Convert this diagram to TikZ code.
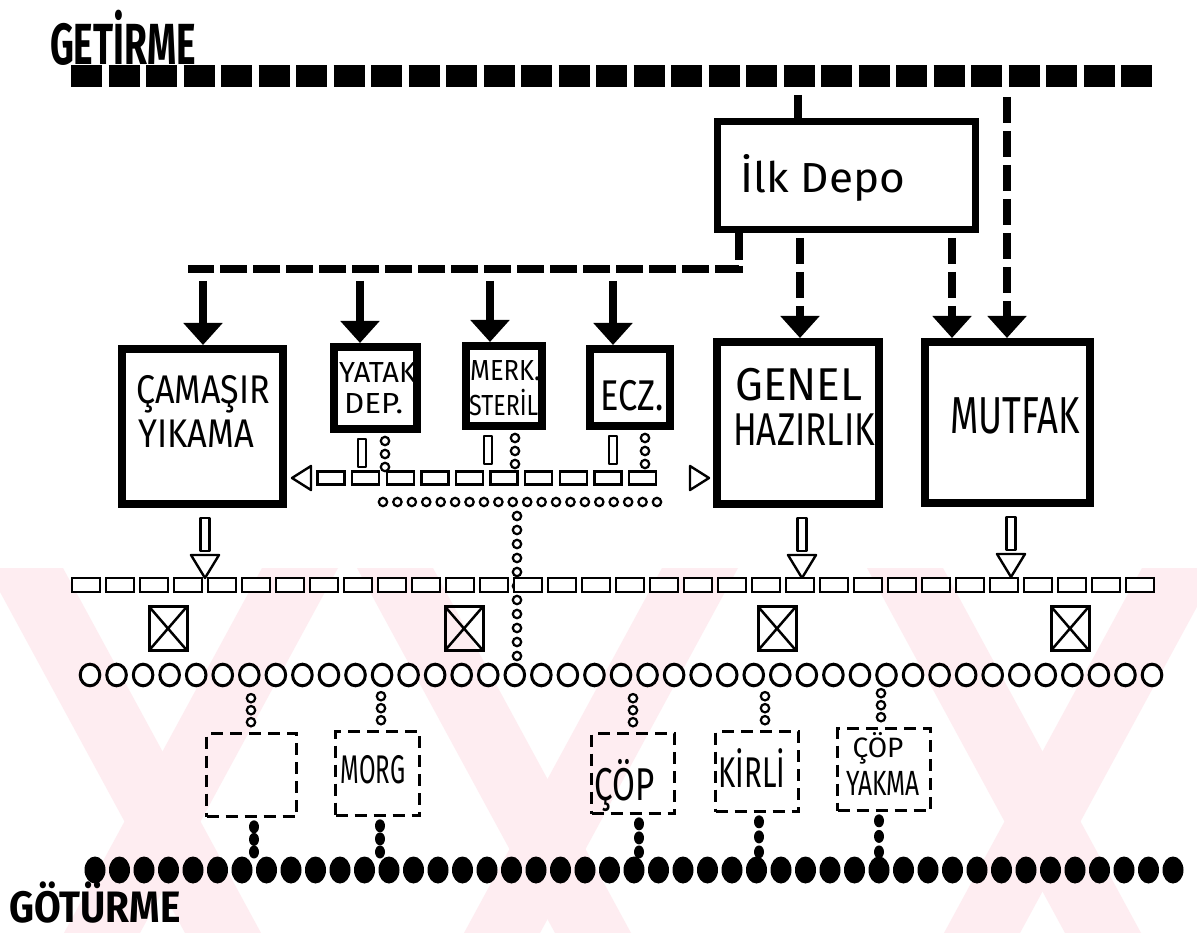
\documentclass[tikz,border=0pt]{standalone}
\usepackage{fontspec}
\setmainfont{Fira Sans}
\usetikzlibrary{arrows.meta,decorations.markings,calc}
\definecolor{wm}{RGB}{254,237,241}
\newcommand\sx[2]{\scalebox{#1}[1]{#2}}
\tikzset{
  getline/.style={line width=22pt, dash pattern=on 31pt off 6.5pt},
  thickdash/.style={line width=8pt, dash pattern=on 26pt off 8pt},
  bhead/.style={-{Triangle[width=38pt,length=22pt]}},
  sbox/.style={draw, line width=8pt, inner sep=0pt},
  dbox/.style={draw, line width=2.6pt, dash pattern=on 12pt off 7pt, inner sep=0pt},
  xbox/.style={draw, line width=3pt, minimum width=38pt, minimum height=44pt, inner sep=0pt,
    path picture={\draw[line width=2.5pt] (path picture bounding box.north west) -- (path picture bounding box.south east)
      (path picture bounding box.north east) -- (path picture bounding box.south west);}},
  lbl/.style={inner sep=0pt, anchor=base},
  lblw/.style={inner sep=0pt, anchor=base west},
  hollow/.style={line width=2.4pt, line join=round},
  rectbig/.style={decorate, decoration={markings, mark=between positions 0 and 1 step #1 with
    {\draw[line width=2.8pt, fill=white] (-14pt,-7pt) rectangle (14pt,7pt);}}},
  rectsmall/.style={decorate, decoration={markings, mark=between positions 0 and 1 step #1 with
    {\draw[line width=2.4pt, fill=white] (-13.5pt,-6.5pt) rectangle (13.5pt,6.5pt);}}},
  circsmall/.style={decorate, decoration={markings, mark=between positions 0 and 1 step #1 with
    {\draw[line width=2.2pt, fill=white] (0pt,0pt) circle [radius=4.2pt];}}},
  circbig/.style={decorate, decoration={markings, mark=between positions 0 and 1 step #1 with
    {\draw[line width=3pt, fill=white] (0pt,0pt) ellipse [x radius=9.8pt, y radius=10.8pt];}}},
  dotbig/.style={decorate, decoration={markings, mark=between positions 0 and 1 step #1 with
    {\fill (0pt,0pt) ellipse [x radius=10.5pt, y radius=13.5pt];}}},
  dotsmall/.style={decorate, decoration={markings,
    mark=at position 0 with {\fill (0pt,0pt) ellipse [x radius=6.5pt, y radius=5pt];},
    mark=at position 0.5 with {\fill (0pt,0pt) ellipse [x radius=6.5pt, y radius=5pt];},
    mark=at position 0.999 with {\fill (0pt,0pt) ellipse [x radius=6.5pt, y radius=5pt];}}},
}
\begin{document}
\begin{tikzpicture}[x=1pt,y=-1pt]
\useasboundingbox[fill=white] (0,0) rectangle (1197,933);
% watermark
\begin{scope}
  \clip (0,568) rectangle (1197,933);
  \foreach \a/\b in {25/223, 300/102, 395/593, 700/502, 905/1103, 1180/982}{
    \fill[wm] (\a-38,568) -- (\a+38,568) -- (\b+38,933) -- (\b-38,933) -- cycle;
  }
\end{scope}

% titles
\node[lbl, font=\fontsize{58}{60}\selectfont\bfseries] (getirme) at (123,65) {\sx{0.64}{GETİRME}};
\node[lbl, font=\fontsize{44}{46}\selectfont\bfseries] (goturme) at (95,922) {\sx{0.88}{GÖTÜRME}};

% main boxes
\node[sbox, line width=7pt, minimum width=258pt, minimum height=108pt] (ilk) at (846.5,175.5) {};
\node[sbox, minimum width=161pt, minimum height=155pt] (cam) at (202.5,426.5) {};
\node[sbox, minimum width=83pt, minimum height=82pt] (yat) at (375.5,388) {};
\node[sbox, minimum width=76pt, minimum height=80pt] (mer) at (504,386) {};
\node[sbox, minimum width=80pt, minimum height=77pt] (ecz) at (630,387.5) {};
\node[sbox, minimum width=162pt, minimum height=162pt] (gen) at (798,423) {};
\node[sbox, minimum width=165pt, minimum height=161pt] (mut) at (1007.5,422.5) {};

% dashed boxes
\node[dbox, minimum width=90pt, minimum height=83pt] (b1) at (251.5,775) {};
\node[dbox, minimum width=84pt, minimum height=84pt] (b2) at (377.5,773.5) {};
\node[dbox, minimum width=83pt, minimum height=80pt] (b3) at (633,773.5) {};
\node[dbox, minimum width=83pt, minimum height=80pt] (b4) at (757,771.5) {};
\node[dbox, minimum width=93pt, minimum height=82pt] (b5) at (884,769.5) {};

% crossed boxes
\node[xbox] (x1) at (168,628.5) {};
\node[xbox] (x2) at (464,628.5) {};
\node[xbox] (x3) at (777,628.5) {};
\node[xbox] (x4) at (1070,628.5) {};

% labels
\node[lbl, font=\fontsize{42}{44}\selectfont] (tilk) at (823,193) {\sx{1.05}{İlk Depo}};
\node[lblw, font=\fontsize{40}{42}\selectfont] (tcam1) at (136,403) {\sx{0.85}{ÇAMAŞIR}};
\node[lblw, font=\fontsize{40}{42}\selectfont] (tcam2) at (138,447) {\sx{0.86}{YIKAMA}};
\node[lblw, font=\fontsize{29}{30}\selectfont] (tyat1) at (339,382) {\sx{1.0}{YATAK}};
\node[lblw, font=\fontsize{29}{30}\selectfont] (tyat2) at (344,413) {\sx{1.08}{DEP.}};
\node[lblw, font=\fontsize{29}{30}\selectfont] (tmer1) at (470,380) {\sx{0.88}{MERK.}};
\node[lblw, font=\fontsize{29}{30}\selectfont] (tmer2) at (469,415) {\sx{0.8}{STERİL}};
\node[lbl, font=\fontsize{43}{44}\selectfont] (tecz) at (632.5,410) {\sx{0.8}{ECZ.}};
\node[lblw, font=\fontsize{46}{48}\selectfont] (tgen1) at (735,400) {\sx{0.96}{GENEL}};
\node[lblw, font=\fontsize{46}{48}\selectfont] (tgen2) at (733,445) {\sx{0.76}{HAZIRLIK}};
\node[lbl, font=\fontsize{52}{54}\selectfont] (tmut) at (1015,433) {\sx{0.7}{MUTFAK}};
\node[lbl, font=\fontsize{40}{42}\selectfont] (tmorg) at (373,783) {\sx{0.6}{MORG}};
\node[lbl, font=\fontsize{46}{48}\selectfont] (tcop) at (625,800) {\sx{0.72}{ÇÖP}};
\node[lbl, font=\fontsize{43}{44}\selectfont] (tkir) at (752,787) {\sx{0.68}{KİRLİ}};
\node[lbl, font=\fontsize{28}{30}\selectfont] (tcy1) at (878,757) {ÇÖP};
\node[lbl, font=\fontsize{35}{36}\selectfont] (tcy2) at (883,795) {\sx{0.7}{YAKMA}};

% getirme line
\coordinate (gL) at (71,76);
\coordinate (gR) at (1158,76);
\draw[getline] (gL) -- (gR);
\coordinate (s1) at (798,95);
\draw[thickdash] (s1) -- (s1 |- ilk.north);
\coordinate (s2) at (1007,97);
\draw[thickdash, bhead] (s2) -- (s2 |- mut.north);

% ilk depo outputs
\coordinate (bend) at (739,269);
\coordinate (lend) at (188,269);
\draw[line width=8pt, dash pattern=on 27pt off 6pt] (ilk.south -| bend) -- (bend) -- (lend);
\foreach \n/\x in {cam/203, yat/360, mer/490, ecz/613}{
  \coordinate (a\n) at (\x,281);
  \draw[line width=8pt, bhead] (a\n) -- (a\n |- \n.north);
}
\coordinate (g1) at (800,0);
\coordinate (m1) at (952,0);
\draw[thickdash, bhead, shorten <=5pt] (ilk.south -| g1) -- (g1 |- gen.north);
\draw[thickdash, bhead, shorten <=5pt] (ilk.south -| m1) -- (m1 |- mut.north);

% small box outputs
\foreach \n/\xa/\xb in {yat/362/385, mer/488/515, ecz/613/645}{
  \coordinate (v\n) at (\xa,0);
  \coordinate (c\n) at (\xb,0);
  \draw[hollow] ($(v\n |- \n.south)+(-4,6)$) rectangle ++(8,28);
  \path[circsmall=13pt] ($(c\n |- \n.south)+(0,8)$) -- ++(0,26.5);
}

% horizontal hollow chain between laundry and general preparation
\coordinate (hc) at (0,478);
\path[rectsmall=34.6pt] ($(cam.east |- hc)+(44,0)$) -- ($(gen.west |- hc)+(-39.5,0)$);
\draw[hollow, fill=white] ($(cam.east |- hc)+(5,0)$) -- ++(19,-12) -- ++(0,24) -- cycle;
\draw[hollow, fill=white] ($(gen.west |- hc)+(-4,0)$) -- ++(-19,-12) -- ++(0,24) -- cycle;

% small circle chains
\coordinate (cm1) at (383,502);
\coordinate (cm2) at (657.5,502);
\path[circsmall=14.42pt] (cm1) -- (cm2);
\coordinate (cv1) at (517,516);
\coordinate (cv2) at (517,656.5);
\path[circsmall=14pt] (cv1) -- (cv2);

% hollow arrows to the lower chain
\foreach \n/\x in {cam/205, gen/802, mut/1011}{
  \coordinate (h\n) at (\x,0);
  \draw[hollow] ($(h\n |- \n.south)+(-4.5,10)$) rectangle ++(9,33);
  \draw[hollow, fill=white] ($(h\n |- \n.south)+(-14,47)$) -- ++(28,0) -- ++(-14,23) -- cycle;
}

% lower rectangle chain
\coordinate (r1) at (86,585);
\coordinate (r2) at (1140.5,585);
\path[rectbig=34pt] (r1) -- (r2);

% circle row
\coordinate (o1) at (90,675);
\coordinate (o2) at (1152.5,675);
\path[circbig=26.55pt] (o1) -- (o2);

% circle chains to dashed boxes
\foreach \n/\x in {b1/251, b2/381, b3/633, b4/765, b5/881}{
  \coordinate (q\n) at (\x,0);
  \path[circsmall=12pt] ($(q\n |- \n.north)+(0,-34)$) -- ++(0,24.5);
}

% dot chains to the goturme line
\coordinate (dl) at (0,852);
\foreach \n/\x in {b1/254, b2/380, b3/639, b4/759, b5/879}{
  \coordinate (d\n) at (\x,0);
  \path[dotsmall] ($(d\n |- \n.south)+(0,9)$) -- (d\n |- dl);
}

% goturme line
\coordinate (p1) at (95,870);
\coordinate (p2) at (1173.5,870);
\path[dotbig=24.5pt] (p1) -- (p2);
\end{tikzpicture}
\end{document}
